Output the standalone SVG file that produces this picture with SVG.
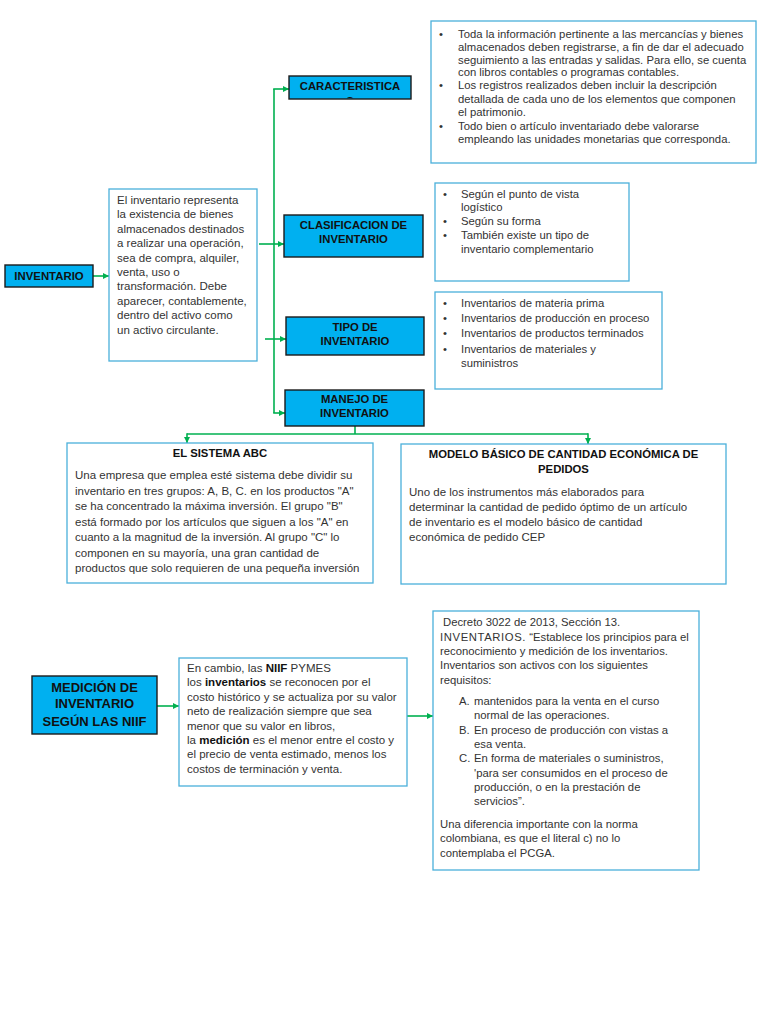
<svg xmlns="http://www.w3.org/2000/svg" width="768" height="1024" viewBox="0 0 768 1024">
<style>
.hd{fill:#00B0F0;stroke:#1b1b1b;stroke-width:1.4}
.bx{fill:#fff;stroke:#4AB0DA;stroke-width:1.3}
.ht{font-family:"Liberation Sans",Arial,sans-serif;font-weight:bold;font-size:11.4px;fill:#111;text-anchor:middle}
.t{font-family:"Liberation Sans",Arial,sans-serif;font-size:11.5px;fill:#333}
.ts{font-family:"Liberation Sans",Arial,sans-serif;font-size:11.3px;fill:#333}
.tb{font-family:"Liberation Sans",Arial,sans-serif;font-weight:bold;font-size:11.3px;fill:#111;text-anchor:middle}
.c{fill:none;stroke:#00B050;stroke-width:1.6}
.b{font-weight:bold;fill:#111}
</style>
<defs>
<marker id="ah" markerUnits="userSpaceOnUse" markerWidth="7" markerHeight="7" refX="6" refY="3.5" orient="auto">
<path d="M0,0.5 L6,3.5 L0,6.5 Z" fill="#00B050"/>
</marker>
<clipPath id="cc"><rect x="289" y="76" width="122" height="22.3"/></clipPath>
</defs>
<rect width="768" height="1024" fill="#fff"/>

<g id="connectors">
<line class="c" x1="93" y1="276" x2="109" y2="276" marker-end="url(#ah)"/>
<line class="c" x1="259" y1="244" x2="284" y2="244" marker-end="url(#ah)"/>
<line class="c" x1="265" y1="339" x2="286" y2="339" marker-end="url(#ah)"/>
<line class="c" x1="274" y1="89" x2="274" y2="413"/>
<line class="c" x1="273.2" y1="89" x2="289" y2="89" marker-end="url(#ah)"/>
<line class="c" x1="273.2" y1="413" x2="285" y2="413" marker-end="url(#ah)"/>
<line class="c" x1="355" y1="426" x2="355" y2="434"/>
<line class="c" x1="187" y1="434" x2="588" y2="434"/>
<line class="c" x1="187" y1="433.2" x2="187" y2="443" marker-end="url(#ah)"/>
<line class="c" x1="588" y1="433.2" x2="588" y2="444" marker-end="url(#ah)"/>
<line class="c" x1="157" y1="706" x2="179" y2="706" marker-end="url(#ah)"/>
<line class="c" x1="407" y1="716" x2="433" y2="716" marker-end="url(#ah)"/>
</g>

<g id="inventario">
<rect class="hd" x="5" y="265" width="88" height="22"/>
<text class="ht" x="49" y="280">INVENTARIO</text>
</g>

<g id="definicion">
<rect class="bx" x="109" y="189" width="148" height="172"/>
<text class="t" x="117">
<tspan x="117" y="204">El inventario representa</tspan>
<tspan x="117" y="218.4">la existencia de bienes</tspan>
<tspan x="117" y="232.8">almacenados destinados</tspan>
<tspan x="117" y="247.2">a realizar una operación,</tspan>
<tspan x="117" y="261.6">sea de compra, alquiler,</tspan>
<tspan x="117" y="276">venta, uso o</tspan>
<tspan x="117" y="290.4">transformación. Debe</tspan>
<tspan x="117" y="304.8">aparecer, contablemente,</tspan>
<tspan x="117" y="319.2">dentro del activo como</tspan>
<tspan x="117" y="333.6">un activo circulante.</tspan>
</text>
</g>

<g id="caracteristicas">
<rect class="hd" x="289" y="76" width="122" height="23"/>
<text class="tb" x="350" y="90">CARACTERISTICA</text>
<text class="tb" x="350" y="104.5" clip-path="url(#cc)">S</text>
</g>

<g id="clasificacion">
<rect class="hd" x="284" y="215" width="139" height="42"/>
<text class="tb" x="353.5" y="228.5">CLASIFICACION DE</text>
<text class="tb" x="353.5" y="242.5">INVENTARIO</text>
</g>

<g id="tipo">
<rect class="hd" x="286" y="317" width="138" height="38"/>
<text class="tb" x="355" y="331">TIPO DE</text>
<text class="tb" x="355" y="345">INVENTARIO</text>
</g>

<g id="manejo">
<rect class="hd" x="285" y="390" width="139" height="36"/>
<text class="tb" x="354.5" y="403">MANEJO DE</text>
<text class="tb" x="354.5" y="417">INVENTARIO</text>
</g>

<g id="caracteristicas-detalle">
<rect class="bx" x="431" y="21" width="325" height="142"/>
<text class="ts">
<tspan x="439" y="37.5">•</tspan><tspan x="458" y="37.5">Toda la información pertinente a las mercancías y bienes</tspan>
<tspan x="458" y="50.5">almacenados deben registrarse, a fin de dar el adecuado</tspan>
<tspan x="458" y="63.5">seguimiento a las entradas y salidas. Para ello, se cuenta</tspan>
<tspan x="458" y="76">con libros contables o programas contables.</tspan>
<tspan x="439" y="89">•</tspan><tspan x="458" y="89">Los registros realizados deben incluir la descripción</tspan>
<tspan x="458" y="102.5">detallada de cada uno de los elementos que componen</tspan>
<tspan x="458" y="116">el patrimonio.</tspan>
<tspan x="439" y="129.5">•</tspan><tspan x="458" y="129.5">Todo bien o artículo inventariado debe valorarse</tspan>
<tspan x="458" y="142.5">empleando las unidades monetarias que corresponda.</tspan>
</text>
</g>

<g id="clasificacion-detalle">
<rect class="bx" x="435" y="183" width="194" height="98"/>
<text class="ts">
<tspan x="443" y="198">•</tspan><tspan x="461" y="198">Según el punto de vista</tspan>
<tspan x="461" y="211">logístico</tspan>
<tspan x="443" y="225">•</tspan><tspan x="461" y="225">Según su forma</tspan>
<tspan x="443" y="239">•</tspan><tspan x="461" y="239">También existe un tipo de</tspan>
<tspan x="461" y="253">inventario complementario</tspan>
</text>
</g>

<g id="tipo-detalle">
<rect class="bx" x="435" y="292" width="227" height="97"/>
<text class="ts">
<tspan x="443" y="307">•</tspan><tspan x="461" y="307">Inventarios de materia prima</tspan>
<tspan x="443" y="322">•</tspan><tspan x="461" y="322">Inventarios de producción en proceso</tspan>
<tspan x="443" y="337">•</tspan><tspan x="461" y="337">Inventarios de productos terminados</tspan>
<tspan x="443" y="352.5">•</tspan><tspan x="461" y="352.5">Inventarios de materiales y</tspan>
<tspan x="461" y="367">suministros</tspan>
</text>
</g>

<g id="sistema-abc">
<rect class="bx" x="67" y="443" width="306" height="140"/>
<text class="tb" x="220" y="456.5">EL SISTEMA ABC</text>
<text class="t">
<tspan x="75" y="479">Una empresa que emplea esté sistema debe dividir su</tspan>
<tspan x="75" y="494.5">inventario en tres grupos: A, B, C. en los productos "A"</tspan>
<tspan x="75" y="510">se ha concentrado la máxima inversión. El grupo "B"</tspan>
<tspan x="75" y="525.5">está formado por los artículos que siguen a los "A" en</tspan>
<tspan x="75" y="541">cuanto a la magnitud de la inversión. Al grupo "C" lo</tspan>
<tspan x="75" y="556.5">componen en su mayoría, una gran cantidad de</tspan>
<tspan x="75" y="572">productos que solo requieren de una pequeña inversión</tspan>
</text>
</g>

<g id="modelo-cep">
<rect class="bx" x="401" y="444" width="325" height="140"/>
<text class="tb" x="563.5" y="458">MODELO BÁSICO DE CANTIDAD ECONÓMICA DE</text>
<text class="tb" x="563.5" y="472.5">PEDIDOS</text>
<text class="t">
<tspan x="409" y="495.5">Uno de los instrumentos más elaborados para</tspan>
<tspan x="409" y="510.5">determinar la cantidad de pedido óptimo de un artículo</tspan>
<tspan x="409" y="525.5">de inventario es el modelo básico de cantidad</tspan>
<tspan x="409" y="540.5">económica de pedido CEP</tspan>
</text>
</g>

<g id="medicion-niif">
<rect class="hd" x="32" y="676" width="125" height="58"/>
<text class="ht" style="font-size:13px" x="94.5" y="691.5">MEDICIÓN DE</text>
<text class="ht" style="font-size:13px" x="94.5" y="708">INVENTARIO</text>
<text class="ht" style="font-size:13px" x="94.5" y="725.5">SEGÚN LAS NIIF</text>
</g>

<g id="niif-pymes">
<rect class="bx" x="179" y="658" width="228" height="128"/>
<text class="t">
<tspan x="187" y="672">En cambio, las <tspan class="b">NIIF</tspan> PYMES</tspan>
<tspan x="187" y="686.4">los <tspan class="b">inventarios</tspan> se reconocen por el</tspan>
<tspan x="187" y="700.8">costo histórico y se actualiza por su valor</tspan>
<tspan x="187" y="715.2">neto de realización siempre que sea</tspan>
<tspan x="187" y="729.6">menor que su valor en libros,</tspan>
<tspan x="187" y="744">la <tspan class="b">medición</tspan> es el menor entre el costo y</tspan>
<tspan x="187" y="758.4">el precio de venta estimado, menos los</tspan>
<tspan x="187" y="772.8">costos de terminación y venta.</tspan>
</text>
</g>

<g id="decreto">
<rect class="bx" x="433" y="611" width="266" height="259"/>
<text class="ts">
<tspan x="443" y="626">Decreto 3022 de 2013, Sección 13.</tspan>
<tspan x="440" y="640.5"><tspan style="letter-spacing:0.6px">INVENTARIOS.</tspan> “Establece los principios para el</tspan>
<tspan x="440" y="655">reconocimiento y medición de los inventarios.</tspan>
<tspan x="440" y="669">Inventarios son activos con los siguientes</tspan>
<tspan x="440" y="683.5">requisitos:</tspan>
<tspan x="459" y="705">A.</tspan><tspan x="474" y="705">mantenidos para la venta en el curso</tspan>
<tspan x="474" y="719.3">normal de las operaciones.</tspan>
<tspan x="459" y="733.6">B.</tspan><tspan x="474" y="733.6">En proceso de producción con vistas a</tspan>
<tspan x="474" y="748">esa venta.</tspan>
<tspan x="459" y="762.3">C.</tspan><tspan x="474" y="762.3">En forma de materiales o suministros,</tspan>
<tspan x="474" y="776.6">'para ser consumidos en el proceso de</tspan>
<tspan x="474" y="791">producción, o en la prestación de</tspan>
<tspan x="474" y="805.3">servicios”.</tspan>
<tspan x="440" y="827.5">Una diferencia importante con la norma</tspan>
<tspan x="440" y="842">colombiana, es que el literal c) no lo</tspan>
<tspan x="440" y="856.5">contemplaba el PCGA.</tspan>
</text>
</g>
</svg>
